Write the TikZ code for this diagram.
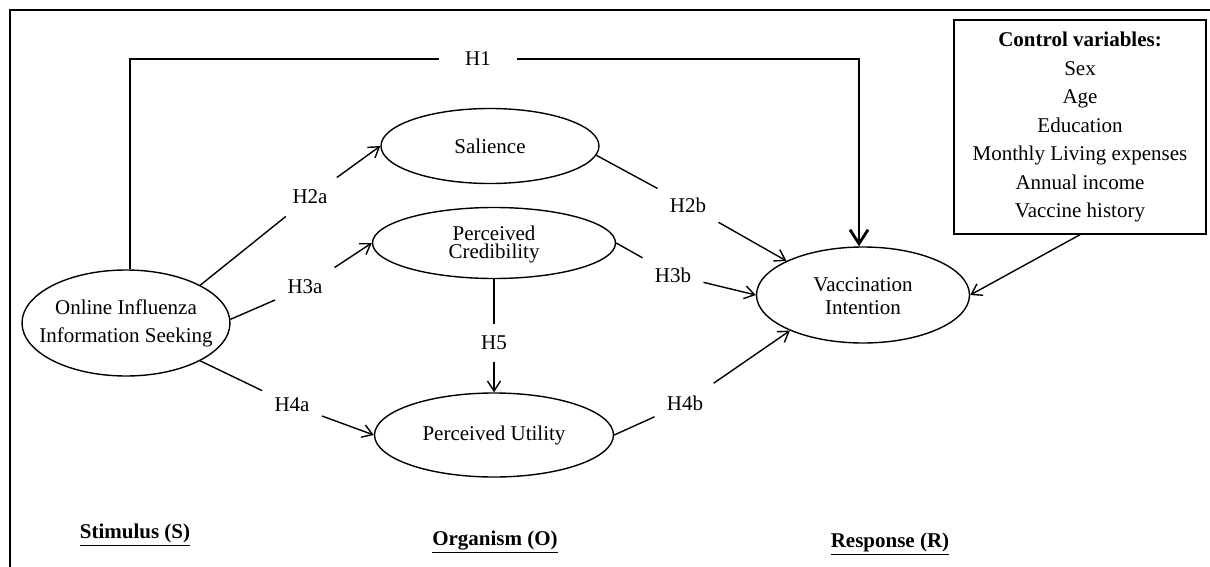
\documentclass[tikz,border=0pt]{standalone}
\usepackage{fontspec}
\setmainfont{Liberation Serif}
\usetikzlibrary{shapes.geometric, arrows.meta}

\tikzset{
  construct/.style={draw, ellipse, inner sep=0pt, line width=0.7pt},
  constructtext/.style={align=center, inner sep=0pt, font=\fontsize{10.5}{12}\selectfont},
  hyp/.style={inner sep=6pt, font=\fontsize{10.5}{12}\selectfont},
  link/.style={line width=0.7pt},
  linkarrow/.style={line width=0.7pt, -{Straight Barb[length=5pt, width=6.5pt]}},
  mainlink/.style={line width=1.4pt},
  phase/.style={anchor=base, font=\bfseries\fontsize{10.5}{12}\selectfont},
}

\begin{document}
\begin{tikzpicture}[x=0.5pt, y=-0.5pt]
  \useasboundingbox (0,0) rectangle (1210,567);
  \clip (0,0) rectangle (1210,567);

  % Frame
  \draw[line width=1pt] (10,600) -- (10,10) -- (1250,10);

  % Constructs
  \node[construct, minimum width=104pt, minimum height=53pt,
        label={[constructtext]center:Online Influenza\\[2pt]Information Seeking}] (online) at (126,323) {};
  \node[construct, minimum width=109pt, minimum height=37.5pt,
        label={[constructtext]center:Salience}] (sal) at (490,146) {};
  \node[construct, minimum width=121.5pt, minimum height=35.5pt,
        label={[constructtext, yshift=-0.5pt]center:Perceived\\[-3pt]Credibility}] (cred) at (494,243) {};
  \node[construct, minimum width=119.5pt, minimum height=42pt,
        label={[constructtext]center:Perceived Utility}] (util) at (494,435) {};
  \node[construct, minimum width=106.5pt, minimum height=48pt,
        label={[constructtext, yshift=-0.5pt]center:Vaccination\\[-0.5pt]Intention}] (vacc) at (863,295) {};

  % Control variables
  \node[draw, line width=0.7pt, minimum width=126pt, minimum height=107pt, align=center,
        font=\fontsize{10.5}{14.25}\selectfont] (ctrl) at (1080,127)
        {\textbf{Control variables:}\\Sex\\Age\\Education\\Monthly Living expenses\\Annual income\\Vaccine history};

  % Hypothesis labels
  \node[hyp, inner xsep=13pt, inner ysep=2pt] (h1) at (478,59) {H1};
  \node[hyp] (h2a) at (310,197) {H2a};
  \node[hyp] (h3a) at (305,287) {H3a};
  \node[hyp] (h4a) at (292,405) {H4a};
  \node[hyp] (h5) at (494,343) {H5};
  \node[hyp] (h2b) at (688,205) {H2b};
  \node[hyp] (h3b) at (673,275) {H3b};
  \node[hyp] (h4b) at (685,403) {H4b};

  % Direct path
  \draw[mainlink] ([xshift=2pt]online.north) |- (h1);
  \draw[mainlink, -{Straight Barb[length=7pt, width=9pt]}] (h1) -| ([xshift=-2pt]vacc.north);

  % Stimulus to organism
  \draw[link] (online.27) -- (h2a);
  \draw[linkarrow] (h2a) -- (sal.west);
  \draw[link] (online.2) -- (h3a);
  \draw[linkarrow] (h3a) -- (cred.west);
  \draw[link] (online.-27) -- (h4a);
  \draw[linkarrow] (h4a) -- (util.west);
  \draw[link] (cred.south) -- (h5);
  \draw[linkarrow] (h5) -- (util.north);

  % Organism to response
  \draw[link] (sal.-5) -- (h2b);
  \draw[linkarrow] (h2b) -- (vacc.156);
  \draw[link] (cred.east) -- (h3b);
  \draw[linkarrow] (h3b) -- (vacc.west);
  \draw[link] (util.east) -- (h4b);
  \draw[linkarrow] (h4b) -- (vacc.206);
  \draw[linkarrow] (ctrl.south) -- (vacc.east);

  % Phases
  \node[phase] (stim) at (135,538) {\underline{Stimulus (S)}};
  \node[phase] (org) at (495,545) {\underline{Organism (O)}};
  \node[phase] (resp) at (890,547) {\underline{Response (R)}};
\end{tikzpicture}
\end{document}
